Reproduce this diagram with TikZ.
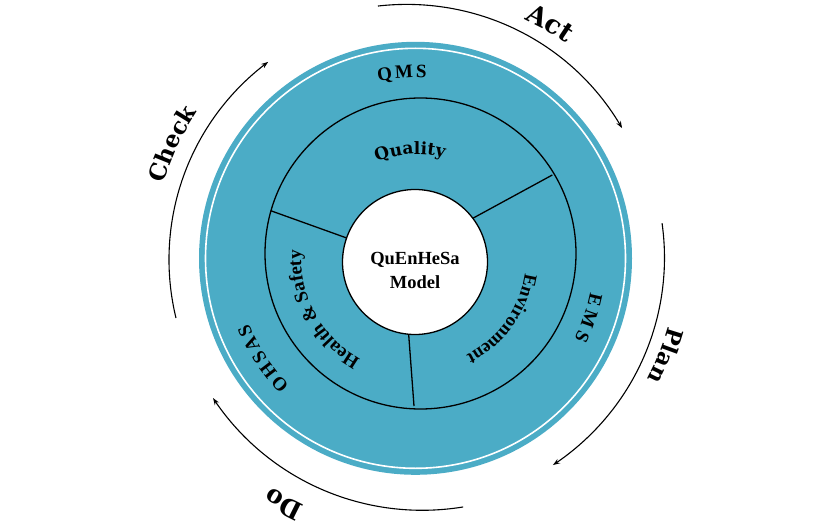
\documentclass[tikz,border=0pt]{standalone}
\usepackage{fontspec}
\usetikzlibrary{decorations.text,arrows.meta}
\newfontfamily\tnrfont{Liberation Serif}
\newfontfamily\djfont{DejaVu Serif}
\definecolor{ringblue}{RGB}{75,172,198}
\newcommand{\spiralarrow}[4]{%
  \draw[arcline] plot[domain=#1:#2,samples=90,variable=\t]
   ({416.4+(#3+((#4)-(#3))*(\t-(#1))/((#2)-(#1)))*cos(\t)},
    {273.8+(#3+((#4)-(#3))*(\t-(#1))/((#2)-(#1)))*sin(\t)});}
\begin{document}
\begin{tikzpicture}[x=1pt,y=1pt,
  arcline/.style={line width=1.1pt,-{Stealth[length=7pt,width=5pt]}},
  ringline/.style={line width=1.3pt},
  ]
\fill[white] (0,0) rectangle (840,531);
\useasboundingbox (0,0) rectangle (840,531);

\coordinate (O) at (415.5,272.7);
\coordinate (M) at (420.5,277.5);
\coordinate (I) at (415,269);
\coordinate (C) at (417,273);
\coordinate (P) at (416.4,273.8);

% outer disk
\fill[ringblue] (O) circle[radius=216.5];
\draw[white,line width=1.6pt] (O) circle[radius=210];
% middle ring
\draw[ringline] (M) circle[radius=155.5];
% dividers
\coordinate (d1a) at (353.4,290.6); \coordinate (d1b) at (270.7,320.3);
\coordinate (d2a) at (466.9,309.5); \coordinate (d2b) at (552.3,356);
\coordinate (d3a) at (407.6,211);   \coordinate (d3b) at (414,125);
\draw[ringline] (d1a) -- (d1b);
\draw[ringline] (d2a) -- (d2b);
\draw[ringline] (d3a) -- (d3b);
% inner circle
\fill[white,draw=black,ringline] (I) circle[radius=72.5];
\node[anchor=base,font=\tnrfont\bfseries\fontsize{18.5}{24}\selectfont] (t1) at (415,267) {QuEnHeSa};
\node[anchor=base,font=\tnrfont\bfseries\fontsize{18.5}{24}\selectfont] (t2) at (415,243) {Model};

% outer ring labels
\path[decorate,decoration={text along path,text align=center,
  text={|\tnrfont\bfseries\fontsize{19}{22}\selectfont|Q{\kern2.5pt}M{\kern2.5pt}S}}]
  ([shift={(124.2:181)}]O) arc[start angle=124.2,end angle=64.2,radius=181];
\path[decorate,decoration={text along path,text align=center,
  text={|\tnrfont\bfseries\fontsize{19}{22}\selectfont|O{\kern2.5pt}H{\kern2.5pt}S{\kern2.5pt}A{\kern2.5pt}S}}]
  ([shift={(253.3:179)}]O) arc[start angle=253.3,end angle=173.3,radius=179];
\path[decorate,decoration={text along path,text align=center,
  text={|\tnrfont\bfseries\fontsize{19}{22}\selectfont|E{\kern4pt}M{\kern4pt}S}}]
  ([shift={(21:178)}]O) arc[start angle=21,end angle=-59,radius=178];

% inner ring labels
\path[decorate,decoration={text along path,text align=center,
  text={|\djfont\bfseries\fontsize{17}{20}\selectfont|Quality}}]
  ([shift={(133.8:104)}]C) arc[start angle=133.8,end angle=53.8,radius=104];
\path[decorate,decoration={text along path,text align=center,
  text={|\tnrfont\bfseries\fontsize{19}{22}\selectfont|Health {\&} Safety}}]
  ([shift={(268.6:116)}]C) arc[start angle=268.6,end angle=148.6,radius=116];
\path[decorate,decoration={text along path,text align=center,
  text={|\tnrfont\bfseries\fontsize{18.5}{22}\selectfont|Environment}}]
  ([shift={(24.4:109)}]C) arc[start angle=24.4,end angle=-95.6,radius=109];

% PDCA labels
\path[decorate,decoration={text along path,text align=center,
  text={|\djfont\bfseries\fontsize{26}{30}\selectfont|Act}}]
  ([shift={(90.2:261)}]P) arc[start angle=90.2,end angle=30.2,radius=261];
\path[decorate,decoration={text along path,text align=center,
  text={|\djfont\bfseries\fontsize{23}{26}\selectfont|Check}}]
  ([shift={(185.1:263)}]P) arc[start angle=185.1,end angle=125.1,radius=263];
\path[decorate,decoration={text along path,text align=center,
  text={|\djfont\bfseries\fontsize{22.5}{26}\selectfont|Plan}}]
  ([shift={(8.4:261)}]P) arc[start angle=8.4,end angle=-51.6,radius=261];
\path[decorate,decoration={text along path,text align=center,
  text={|\djfont\bfseries\fontsize{25}{28}\selectfont|Do}}]
  ([shift={(-88.3:272)}]P) arc[start angle=-88.3,end angle=-148.3,radius=272];

% PDCA arrows
\spiralarrow{98.7}{32.1}{254.1}{242.8}
\spiralarrow{7.9}{-56.7}{248}{248.7}
\spiralarrow{-79.4}{-145.3}{254.1}{247.4}
\spiralarrow{194.2}{127.2}{248}{245.2}
\end{tikzpicture}
\end{document}
